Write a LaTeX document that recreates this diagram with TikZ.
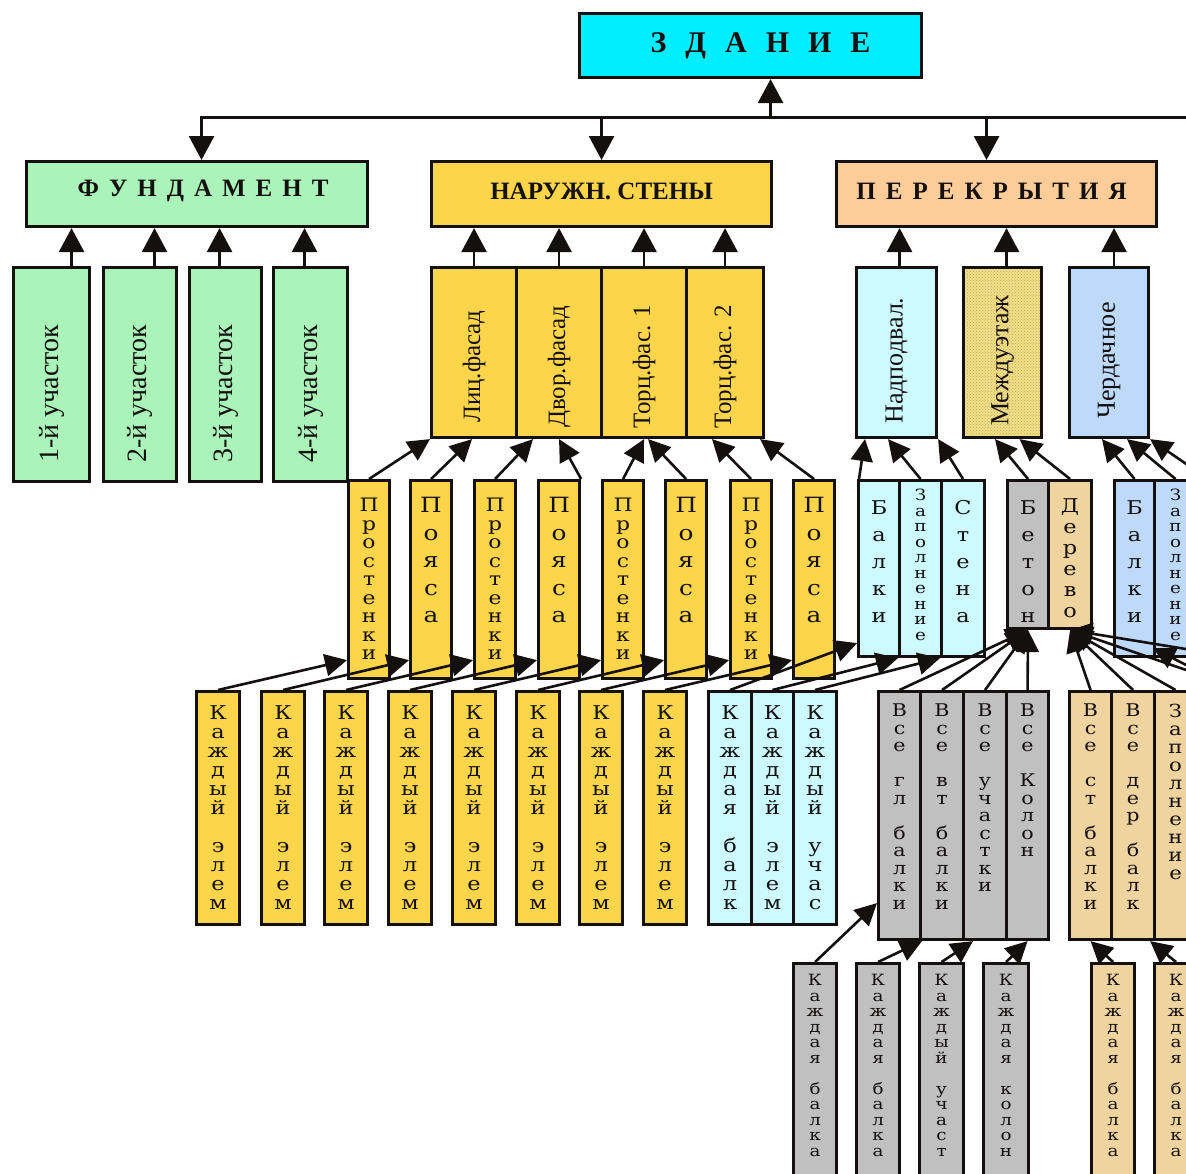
\documentclass[tikz,border=0pt]{standalone}
\usepackage{fontspec}
\setmainfont{Liberation Serif}
\newfontfamily\stkf[FakeStretch=1.18]{DejaVu Serif}
\usetikzlibrary{arrows.meta,patterns,calc}
\definecolor{czd}{RGB}{0,238,255}
\definecolor{cgr}{RGB}{170,244,185}
\definecolor{cgo}{RGB}{253,213,75}
\definecolor{cpe}{RGB}{252,204,153}
\definecolor{ccy}{RGB}{204,250,255}
\definecolor{cmz}{RGB}{242,222,135}
\definecolor{cmzp}{RGB}{196,170,90}
\definecolor{cbl}{RGB}{190,218,250}
\definecolor{cgy}{RGB}{192,192,192}
\definecolor{cwd}{RGB}{240,212,160}
\definecolor{ink}{RGB}{20,16,16}
\tikzset{
 bx/.style={draw=ink, line width=3.1pt, inner sep=0pt, anchor=north west},
 arr/.style={draw=ink, line width=2.8pt, -{Triangle[length=24pt,width=25pt]}},
 arrs/.style={draw=ink, line width=2.6pt, -{Triangle[length=22pt,width=22pt]}},
 rtxt/.style={rotate=90, inner sep=0pt, text=ink},
 stk/.style={anchor=north, inner sep=0pt, align=center, text=ink},
 hdr/.style={inner sep=0pt, text=ink, font=\bfseries\fontsize{25}{28}\selectfont},
}
\newcommand\mkbox[7]{\node[bx,#2,minimum width=#5pt,minimum height=#6pt] (#1) at (#3,-#4) {#7};}
\newcommand\mktxt[6]{\node[stk,font=\stkf\fontsize{#4}{#5}\selectfont] (#1) at ([yshift=-#3pt]#2.north) {#6};}
\begin{document}
\begin{tikzpicture}[x=1pt,y=1pt]
\useasboundingbox (0,0) rectangle (1186,-1173);
\fill[white] (0,0) rectangle (1186,-1173);
\clip (0,0) rectangle (1186,-1173);

% ---------- boxes ----------
\mkbox{zd}{fill=czd}{578}{12}{342}{64}{}
\mkbox{fund}{fill=cgr}{25}{160}{341}{65}{}
\mkbox{walls}{fill=cgo}{430}{160}{340}{65}{}
\mkbox{perek}{fill=cpe}{835}{160}{320}{65}{}

\mkbox{f1}{fill=cgr}{12}{266}{76}{214}{}
\mkbox{f2}{fill=cgr}{102}{266}{73}{214}{}
\mkbox{f3}{fill=cgr}{188}{266}{72}{214}{}
\mkbox{f4}{fill=cgr}{272}{266}{74}{214}{}

\mkbox{w1}{fill=cgo}{430}{266}{85}{170}{}
\mkbox{w2}{fill=cgo}{515}{266}{85}{170}{}
\mkbox{w3}{fill=cgo}{600}{266}{85}{170}{}
\mkbox{w4}{fill=cgo}{685}{266}{77}{170}{}

\mkbox{p1}{fill=ccy}{855}{266}{80}{170}{}
\mkbox{p2}{fill=cmz,postaction={pattern=crosshatch dots,pattern color=cmzp},postaction={draw=ink,line width=3.1pt}}{962}{266}{78}{170}{}
\mkbox{p3}{fill=cbl}{1068}{266}{79}{170}{}

\mkbox{s1}{fill=cgo}{347}{479}{41}{198}{}
\mkbox{s2}{fill=cgo}{409}{479}{41}{198}{}
\mkbox{s3}{fill=cgo}{473}{479}{41}{198}{}
\mkbox{s4}{fill=cgo}{537}{479}{41}{198}{}
\mkbox{s5}{fill=cgo}{601}{479}{41}{198}{}
\mkbox{s6}{fill=cgo}{664}{479}{41}{198}{}
\mkbox{s7}{fill=cgo}{729}{479}{41}{198}{}
\mkbox{s8}{fill=cgo}{792}{479}{41}{198}{}

\mkbox{b1}{fill=ccy}{857}{479}{41}{176}{}
\mkbox{z1}{fill=ccy}{898}{479}{42}{176}{}
\mkbox{st}{fill=ccy}{940}{479}{43}{176}{}
\mkbox{bet}{fill=cgy}{1006}{479}{41}{148}{}
\mkbox{der}{fill=cwd}{1047}{479}{43}{148}{}
\mkbox{b2}{fill=cbl}{1113}{479}{40}{176}{}
\mkbox{z2}{fill=cbl}{1153}{479}{42}{176}{}

\mkbox{k1}{fill=cgo}{195}{690}{43}{233}{}
\mkbox{k2}{fill=cgo}{260}{690}{43}{233}{}
\mkbox{k3}{fill=cgo}{323}{690}{43}{233}{}
\mkbox{k4}{fill=cgo}{387}{690}{43}{233}{}
\mkbox{k5}{fill=cgo}{451}{690}{43}{233}{}
\mkbox{k6}{fill=cgo}{515}{690}{43}{233}{}
\mkbox{k7}{fill=cgo}{578}{690}{43}{233}{}
\mkbox{k8}{fill=cgo}{642}{690}{43}{233}{}
\mkbox{c1}{fill=ccy}{707}{690}{43}{233}{}
\mkbox{c2}{fill=ccy}{750}{690}{42}{233}{}
\mkbox{c3}{fill=ccy}{792}{690}{43}{233}{}

\mkbox{g1}{fill=cgy}{877}{690}{42}{248}{}
\mkbox{g2}{fill=cgy}{919}{690}{43}{248}{}
\mkbox{g3}{fill=cgy}{962}{690}{43}{248}{}
\mkbox{g4}{fill=cgy}{1005}{690}{42}{248}{}
\mkbox{t1}{fill=cwd}{1068}{690}{42}{248}{}
\mkbox{t2}{fill=cwd}{1110}{690}{43}{248}{}
\mkbox{t3}{fill=cwd}{1153}{690}{42}{248}{}

\mkbox{r1}{fill=cgy}{792}{962}{43}{240}{}
\mkbox{r2}{fill=cgy}{855}{962}{43}{240}{}
\mkbox{r3}{fill=cgy}{918}{962}{44}{240}{}
\mkbox{r4}{fill=cgy}{982}{962}{45}{240}{}
\mkbox{r5}{fill=cwd}{1090}{962}{43}{240}{}
\mkbox{r6}{fill=cwd}{1153}{962}{43}{240}{}

% ---------- texts ----------
\node[hdr,font=\bfseries\fontsize{30}{32}\selectfont] (zdt) at ([xshift=10pt]zd.center) {З\hspace{19pt}Д\hspace{19pt}А\hspace{19pt}Н\hspace{19pt}И\hspace{19pt}Е};
\node[hdr] (fundt) at ([xshift=6pt,yshift=3pt]fund.center) {Ф\hspace{10pt}У\hspace{10pt}Н\hspace{10pt}Д\hspace{10pt}А\hspace{10pt}М\hspace{10pt}Е\hspace{10pt}Н\hspace{10pt}Т};
\node[hdr] (wallst) at ([yshift=3pt]walls.center) {НАРУЖН. СТЕНЫ};
\node[hdr] (perekt) at ([xshift=-5pt,yshift=3pt]perek.center) {П\hspace{10pt}Е\hspace{10pt}Р\hspace{10pt}Е\hspace{10pt}К\hspace{10pt}Р\hspace{10pt}Ы\hspace{10pt}Т\hspace{10pt}И\hspace{10pt}Я};

\node[rtxt,font=\fontsize{28}{30}\selectfont] (f1t) at ([yshift=-19pt]f1.center) {1-й участок};
\node[rtxt,font=\fontsize{28}{30}\selectfont] (f2t) at ([yshift=-19pt]f2.center) {2-й участок};
\node[rtxt,font=\fontsize{28}{30}\selectfont] (f3t) at ([yshift=-19pt]f3.center) {3-й участок};
\node[rtxt,font=\fontsize{28}{30}\selectfont] (f4t) at ([yshift=-19pt]f4.center) {4-й участок};

\node[rtxt,font=\fontsize{25}{28}\selectfont] (w1t) at ([yshift=-14pt]w1.center) {Лиц.фасад};
\node[rtxt,font=\fontsize{25}{28}\selectfont] (w2t) at ([yshift=-14pt]w2.center) {Двор.фасад};
\node[rtxt,font=\fontsize{25}{28}\selectfont] (w3t) at ([yshift=-14pt]w3.center) {Торц.фас. 1};
\node[rtxt,font=\fontsize{25}{28}\selectfont] (w4t) at ([yshift=-14pt]w4.center) {Торц.фас. 2};

\node[rtxt,font=\fontsize{26}{28}\selectfont] (p1t) at ([yshift=-8pt]p1.center) {Надподвал.};
\node[rtxt,font=\fontsize{26}{28}\selectfont] (p2t) at ([yshift=-8pt]p2.center) {Междуэтаж};
\node[rtxt,font=\fontsize{26}{28}\selectfont] (p3t) at ([yshift=-8pt]p3.center) {Чердачное};

\mktxt{s1t}{s1}{19}{18.5}{18.5}{П\\р\\о\\с\\т\\е\\н\\к\\и}
\mktxt{s2t}{s2}{18}{21}{27.5}{П\\о\\я\\с\\а}
\mktxt{s3t}{s3}{19}{18.5}{18.5}{П\\р\\о\\с\\т\\е\\н\\к\\и}
\mktxt{s4t}{s4}{18}{21}{27.5}{П\\о\\я\\с\\а}
\mktxt{s5t}{s5}{19}{18.5}{18.5}{П\\р\\о\\с\\т\\е\\н\\к\\и}
\mktxt{s6t}{s6}{18}{21}{27.5}{П\\о\\я\\с\\а}
\mktxt{s7t}{s7}{19}{18.5}{18.5}{П\\р\\о\\с\\т\\е\\н\\к\\и}
\mktxt{s8t}{s8}{18}{21}{27.5}{П\\о\\я\\с\\а}

\mktxt{b1t}{b1}{21}{19}{27}{Б\\а\\л\\к\\и}
\mktxt{z1t}{z1}{10}{15.5}{15.5}{З\\а\\п\\о\\л\\н\\е\\н\\и\\е}
\mktxt{stt}{st}{21}{19}{27}{С\\т\\е\\н\\а}
\mktxt{bett}{bet}{21}{19}{27}{Б\\е\\т\\о\\н}
\mktxt{dert}{der}{19}{19}{21}{Д\\е\\р\\е\\в\\о}
\mktxt{b2t}{b2}{21}{19}{27}{Б\\а\\л\\к\\и}
\mktxt{z2t}{z2}{10}{15.5}{15.5}{З\\а\\п\\о\\л\\н\\е\\н\\и\\е}

\mktxt{k1t}{k1}{15}{19}{19}{К\\а\\ж\\д\\ы\\й\\~\\э\\л\\е\\м}
\mktxt{k2t}{k2}{15}{19}{19}{К\\а\\ж\\д\\ы\\й\\~\\э\\л\\е\\м}
\mktxt{k3t}{k3}{15}{19}{19}{К\\а\\ж\\д\\ы\\й\\~\\э\\л\\е\\м}
\mktxt{k4t}{k4}{15}{19}{19}{К\\а\\ж\\д\\ы\\й\\~\\э\\л\\е\\м}
\mktxt{k5t}{k5}{15}{19}{19}{К\\а\\ж\\д\\ы\\й\\~\\э\\л\\е\\м}
\mktxt{k6t}{k6}{15}{19}{19}{К\\а\\ж\\д\\ы\\й\\~\\э\\л\\е\\м}
\mktxt{k7t}{k7}{15}{19}{19}{К\\а\\ж\\д\\ы\\й\\~\\э\\л\\е\\м}
\mktxt{k8t}{k8}{15}{19}{19}{К\\а\\ж\\д\\ы\\й\\~\\э\\л\\е\\м}
\mktxt{c1t}{c1}{15}{19}{19}{К\\а\\ж\\д\\а\\я\\~\\б\\а\\л\\к}
\mktxt{c2t}{c2}{15}{19}{19}{К\\а\\ж\\д\\ы\\й\\~\\э\\л\\е\\м}
\mktxt{c3t}{c3}{15}{19}{19}{К\\а\\ж\\д\\ы\\й\\~\\у\\ч\\а\\с}

\mktxt{g1t}{g1}{14}{17.5}{17.5}{В\\с\\е\\~\\г\\л\\~\\б\\а\\л\\к\\и}
\mktxt{g2t}{g2}{14}{17.5}{17.5}{В\\с\\е\\~\\в\\т\\~\\б\\а\\л\\к\\и}
\mktxt{g3t}{g3}{14}{17.5}{17.5}{В\\с\\е\\~\\у\\ч\\а\\с\\т\\к\\и}
\mktxt{g4t}{g4}{14}{17.5}{17.5}{В\\с\\е\\~\\К\\о\\л\\о\\н}
\mktxt{t1t}{t1}{14}{17.5}{17.5}{В\\с\\е\\~\\с\\т\\~\\б\\а\\л\\к\\и}
\mktxt{t2t}{t2}{14}{17.5}{17.5}{В\\с\\е\\~\\д\\е\\р\\~\\б\\а\\л\\к}
\mktxt{t3t}{t3}{14}{18}{18}{З\\а\\п\\о\\л\\н\\е\\н\\и\\е}

\mktxt{r1t}{r1}{12}{15.5}{15.5}{К\\а\\ж\\д\\а\\я\\~\\б\\а\\л\\к\\а}
\mktxt{r2t}{r2}{12}{15.5}{15.5}{К\\а\\ж\\д\\а\\я\\~\\б\\а\\л\\к\\а}
\mktxt{r3t}{r3}{12}{15.5}{15.5}{К\\а\\ж\\д\\ы\\й\\~\\у\\ч\\а\\с\\т}
\mktxt{r4t}{r4}{12}{15.5}{15.5}{К\\а\\ж\\д\\а\\я\\~\\к\\о\\л\\о\\н}
\mktxt{r5t}{r5}{12}{15.5}{15.5}{К\\а\\ж\\д\\а\\я\\~\\б\\а\\л\\к\\а}
\mktxt{r6t}{r6}{12}{15.5}{15.5}{К\\а\\ж\\д\\а\\я\\~\\б\\а\\л\\к\\а}

% ---------- connectors ----------
\coordinate (L0) at (200,-117);
\coordinate (L1) at (1190,-117);
\draw[draw=ink,line width=3pt] (L0) -- (L1);
\coordinate (za) at ([xshift=20pt]zd.south);
\draw[arr] (za |- L0) -- (za);
\coordinate (fa) at ([xshift=4.5pt]fund.north);
\draw[arr] (fa |- L0) -- (fa);
\draw[arr] (walls.north |- L0) -- (walls.north);
\coordinate (pa) at ([xshift=-10pt]perek.north);
\draw[arr] (pa |- L0) -- (pa);

\coordinate (f1a) at ([xshift=20pt]f1.north);
\coordinate (f2a) at ([xshift=14.5pt]f2.north);
\coordinate (f3a) at ([xshift=-6pt]f3.north);
\coordinate (f4a) at ([xshift=-6pt]f4.north);
\foreach \a in {f1a,f2a,f3a,f4a} \draw[arr] (\a) -- (\a |- fund.south);

\foreach \w in {w1,w2,w3,w4} \draw[arr] (\w.north) -- (\w.north |- walls.south);
\coordinate (p1a) at ([xshift=3pt]p1.north);
\coordinate (p2a) at ([xshift=4pt]p2.north);
\coordinate (p3a) at ([xshift=5pt]p3.north);
\foreach \a in {p1a,p2a,p3a} \draw[arr] (\a) -- (\a |- perek.south);

% row2 -> facades
\draw[arrs] (s1.north) -- (w1.south west);
\draw[arrs] (s2.north) -- ([xshift=-2pt]w1.south);
\draw[arrs] (s3.north) -- ([xshift=18pt]w2.south west);
\draw[arrs] (s4.north east) -- (w2.south);
\draw[arrs] (s5.north) -- (w3.south);
\draw[arrs] (s6.north) -- ([xshift=4pt]w3.south);
\draw[arrs] (s7.north) -- ([xshift=27pt]w4.south west);
\draw[arrs] (s8.north) -- ([xshift=-5pt]w4.south east);

% row2 -> floors
\draw[arrs] ([xshift=2pt]b1.north west) -- ([xshift=10pt]p1.south west);
\draw[arrs] (z1.north) -- ([xshift=33pt]p1.south west);
\draw[arrs] (st.north) -- (p1.south east);
\draw[arrs] (bet.north) -- ([xshift=33pt]p2.south west);
\draw[arrs] (der.north) -- ([xshift=17pt]p2.south);
\draw[arrs] (b2.north) -- ([xshift=34pt]p3.south west);
\draw[arrs] (z2.north) -- ([xshift=18pt]p3.south);
\coordinate (e1) at (1192,-468);
\draw[arrs] (e1) -- (p3.south east);

% row3 -> row2
\foreach \i in {1,...,8} \draw[arrs] (k\i.north) -- ([yshift=20pt]s\i.south west);
\draw[arrs] (c1.north) -- ([yshift=15pt]b1.south west);
\draw[arrs] (c2.north) -- (z1.south west);
\draw[arrs] (c3.north) -- (st.south west);
\foreach \g in {g1,g2,g3,g4} \draw[arrs] (\g.north) -- (bet.south);
\foreach \t in {t1,t2,t3} \draw[arrs] (\t.north) -- (der.south);
\coordinate (e2) at (1192,-672);
\coordinate (e3) at (1192,-650);
\coordinate (e4) at (1192,-668);
\draw[arrs] (e2) -- (der.south);
\draw[arrs] (e3) -- (der.south);
\draw[arrs] (e4) -- ([xshift=-3pt,yshift=10pt]b2.south east);

% row4 -> row3
\draw[arrs] (r1.north) -- ([yshift=38pt]g1.south west);
\draw[arrs] (r2.north) -- ([xshift=3pt]g2.south west);
\draw[arrs] (r3.north) -- ([xshift=11pt]g3.south west);
\draw[arrs] (r4.north) -- (g4.south);
\draw[arrs] (r5.north) -- (t1.south);
\draw[arrs] (r6.north) -- ([xshift=-6pt]t2.south east);
\end{tikzpicture}
\end{document}
